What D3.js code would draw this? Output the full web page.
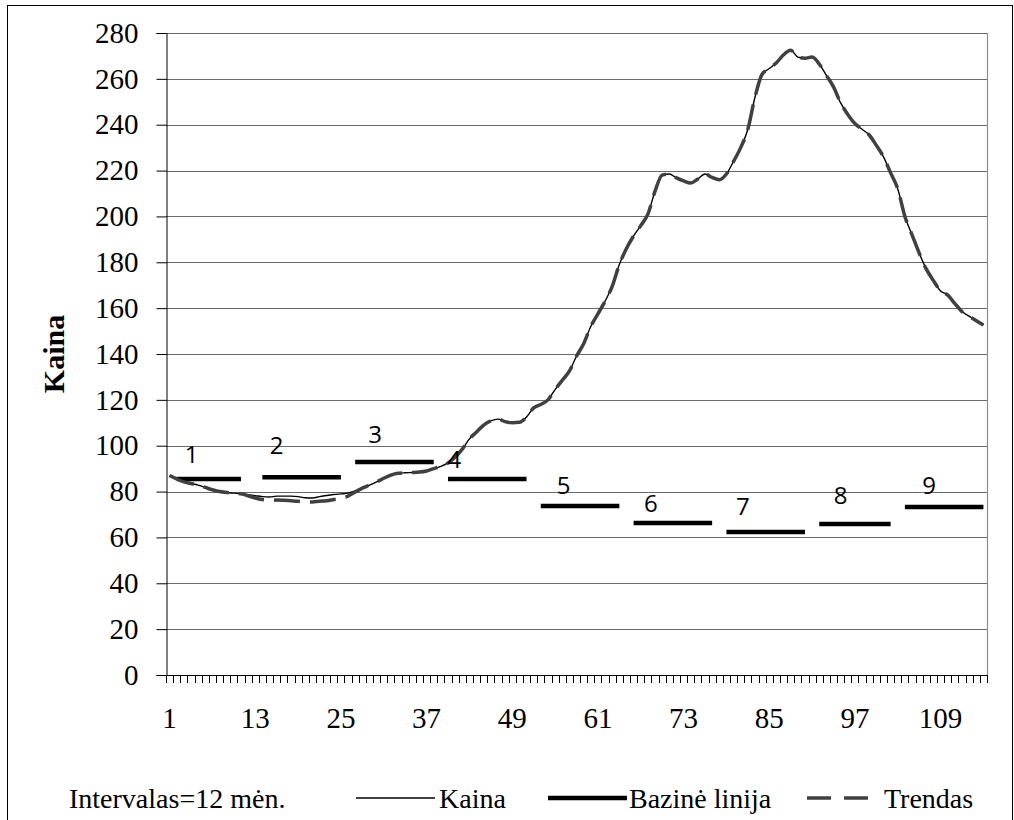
<!DOCTYPE html>
<html>
<head>
<meta charset="utf-8">
<script src="https://cdn.jsdelivr.net/npm/d3@7"></script>
<style>
  html, body { margin: 0; padding: 0; background: #fff; }
  svg { display: block; }
</style>
</head>
<body>
<svg id="chart" width="1014" height="820"></svg>
<script>
// ---- data ----
const months = d3.range(1, 116);
const xTickLabels = [1, 13, 25, 37, 49, 61, 73, 85, 97, 109];
const yTicks = [0, 20, 40, 60, 80, 100, 120, 140, 160, 180, 200, 220, 240, 260, 280];

const kaina = [
  87, 85.5, 84.2, 83.5, 82.8, 81.8, 80.8, 80, 79.6, 79.3,
  79, 78.6, 78.2, 77.8, 77.6, 78, 78, 78, 77.8, 77.3,
  77.2, 77.8, 78.3, 78.7, 79, 79.3, 80.3, 81.5, 82.8, 84.2,
  85.8, 87.2, 88, 88.2, 88.3, 88.5, 89, 90, 91, 92.5,
  95, 98.5, 103, 106, 109, 110.8, 111.6, 110.5, 110, 110.2,
  112.5, 116.5, 118, 120, 124.5, 128.5, 132.5, 139, 144.5, 152,
  157.5, 163, 169.5, 179, 186, 191.5, 196, 201, 211, 218,
  218.5, 216.8, 215.5, 214.6, 216.3, 218.5, 217, 216, 218.5, 224,
  230, 238, 252, 262, 264.5, 267, 270.5, 272.5, 269.5, 269,
  269.5, 266.5, 261.5, 256.5, 249.5, 244.5, 240.5, 238, 235.5, 231,
  226, 219, 212, 200, 192, 184, 177, 172, 167.5, 165.7,
  162, 158.5, 156.5, 154.5, 152.6
];

const trendas = [
  87, 85.5, 84.2, 83.5, 82.8, 81.8, 80.8, 80, 79.6, 79.3,
  79, 78.2, 77.2, 76.5, 76.2, 76.3, 76.2, 76, 75.8, 75.5,
  75.5, 75.8, 76, 76.5, 77, 78, 79.8, 81.5, 82.8, 84.2,
  85.8, 87.2, 88, 88.2, 88.3, 88.5, 89, 90, 91, 92.5,
  95, 98.5, 103, 106, 109, 110.8, 111.6, 110.5, 110, 110.2,
  112.5, 116.5, 118, 120, 124.5, 128.5, 132.5, 139, 144.5, 152,
  157.5, 163, 169.5, 179, 186, 191.5, 196, 201, 211, 218,
  218.5, 216.8, 215.5, 214.6, 216.3, 218.5, 217, 216, 218.5, 224,
  230, 238, 252, 262, 264.5, 267, 270.5, 272.5, 269.5, 269,
  269.5, 266.5, 261.5, 256.5, 249.5, 244.5, 240.5, 238, 235.5, 231,
  226, 219, 212, 200, 192, 184, 177, 172, 167.5, 165.7,
  162, 158.5, 156.5, 154.5, 152.6
];

// baseline (Bazinė linija) segments per 12-month interval
const baseNames = ["1", "2", "3", "4", "5", "6", "7", "8", "9"];
const baseStart = [2, 14, 27, 40, 53, 66, 79, 92, 104];
const baseEnd   = [11, 25, 38, 51, 64, 77, 90, 102, 115];
const baseValue = [85.5, 86.3, 92.9, 85.5, 73.7, 66.3, 62.4, 65.9, 73.3];
// annotation anchors (month, price) for the interval numbers
const labelMonth = [4.1, 16.0, 29.8, 40.9, 56.2, 68.4, 81.3, 95.0, 107.4];
const labelPrice = [96.8, 100.6, 105.5, 94.6, 82.9, 75.4, 74.1, 78.9, 83.3];

const legendNote = "Intervalas=12 mėn.";
const seriesNames = ["Kaina", "Bazinė linija", "Trendas"];
const yTitle = "Kaina";

// ---- drawing ----
const svg = d3.select("#chart");
const L = 166, R = 987, T = 33, B = 675;

const x = d3.scaleBand().domain(months).range([L, R]).padding(0);
const xm = d3.scaleLinear().domain([0.5, months.length + 0.5]).range([L, R]);
const xc = m => xm(m);
const y = d3.scaleLinear().domain([0, 280]).range([B, T]);

const serif = "'Liberation Serif', 'Times New Roman', serif";

// outer border
svg.append("rect").attr("x", 7.5).attr("y", 5.5).attr("width", 1005).attr("height", 820)
  .attr("fill", "none").attr("stroke", "#000").attr("stroke-width", 1);

// gridlines
svg.append("g").selectAll("line").data(yTicks.filter(d => d > 0)).join("line")
  .attr("x1", L).attr("x2", R)
  .attr("y1", d => Math.round(y(d)) + 0.5).attr("y2", d => Math.round(y(d)) + 0.5)
  .attr("stroke", "#6a6a6a").attr("stroke-width", 1);

// right plot border
svg.append("line").attr("x1", R + 0.5).attr("x2", R + 0.5).attr("y1", T).attr("y2", B)
  .attr("stroke", "#8c8c8c").attr("stroke-width", 1.2);

// y axis
const yAxis = d3.axisLeft(y).tickValues(yTicks).tickSize(10).tickPadding(18);
const gy = svg.append("g").attr("transform", `translate(${L + 0.5},0)`).call(yAxis);
gy.select(".domain").attr("stroke", "#000");
gy.selectAll(".tick line").attr("stroke", "#000");
gy.selectAll("text").attr("font-family", serif).attr("font-size", 29).attr("fill", "#000");

// x axis: ticks at category boundaries
const gx = svg.append("g");
gx.append("line").attr("x1", L).attr("x2", R + 1).attr("y1", B + 0.5).attr("y2", B + 0.5)
  .attr("stroke", "#000").attr("stroke-width", 1);
gx.selectAll("line.tk").data(months.concat([null])).join("line").attr("class", "tk")
  .attr("x1", d => Math.round(d === null ? R : x(d)) + 0.5)
  .attr("x2", d => Math.round(d === null ? R : x(d)) + 0.5)
  .attr("y1", B).attr("y2", B + 8).attr("stroke", "#000").attr("stroke-width", 1);
gx.selectAll("text").data(xTickLabels).join("text")
  .attr("x", d => xc(d)).attr("y", B + 53)
  .attr("text-anchor", "middle").attr("font-family", serif).attr("font-size", 29)
  .text(d => d);

// y title
svg.append("text")
  .attr("transform", `translate(64,${(T + B) / 2}) rotate(-90)`)
  .attr("text-anchor", "middle").attr("font-family", serif).attr("font-weight", "bold")
  .attr("font-size", 30).text(yTitle);

// lines
const line = d3.line().x((d, i) => xc(months[i])).y(d => y(d)).curve(d3.curveMonotoneX);

svg.append("path").datum(kaina).attr("d", line)
  .attr("fill", "none").attr("stroke", "#000").attr("stroke-width", 1.4);

svg.append("g").selectAll("line").data(baseValue).join("line")
  .attr("x1", (d, i) => xc(baseStart[i])).attr("x2", (d, i) => xc(baseEnd[i]))
  .attr("y1", d => y(d)).attr("y2", d => y(d))
  .attr("stroke", "#000").attr("stroke-width", 4.5);

svg.append("path").datum(trendas).attr("d", line)
  .attr("fill", "none").attr("stroke", "#404040").attr("stroke-width", 3.5)
  .attr("stroke-dasharray", "26,10");

svg.append("g").selectAll("text").data(baseNames).join("text")
  .attr("x", (d, i) => xc(labelMonth[i])).attr("y", (d, i) => y(labelPrice[i]))
  .attr("text-anchor", "middle").attr("dominant-baseline", "central")
  .attr("font-family", "'Open Sans', 'Noto Sans', sans-serif").attr("font-size", 24)
  .text(d => d);

// legend
const ly = 798;
const lg = svg.append("g").attr("font-family", serif).attr("font-size", 28);
lg.append("text").attr("x", 69).attr("y", ly).attr("dominant-baseline", "central").text(legendNote);
lg.append("line").attr("x1", 356).attr("x2", 435).attr("y1", ly).attr("y2", ly)
  .attr("stroke", "#000").attr("stroke-width", 1.5);
lg.append("text").attr("x", 439).attr("y", ly).attr("dominant-baseline", "central").text(seriesNames[0]);
lg.append("line").attr("x1", 548).attr("x2", 627).attr("y1", ly).attr("y2", ly)
  .attr("stroke", "#000").attr("stroke-width", 4.5);
lg.append("text").attr("x", 629).attr("y", ly).attr("dominant-baseline", "central").text(seriesNames[1]);
lg.append("line").attr("x1", 807).attr("x2", 870).attr("y1", ly).attr("y2", ly)
  .attr("stroke", "#404040").attr("stroke-width", 3.5).attr("stroke-dasharray", "24,13");
lg.append("text").attr("x", 884).attr("y", ly).attr("dominant-baseline", "central").text(seriesNames[2]);
</script>
</body>
</html>
